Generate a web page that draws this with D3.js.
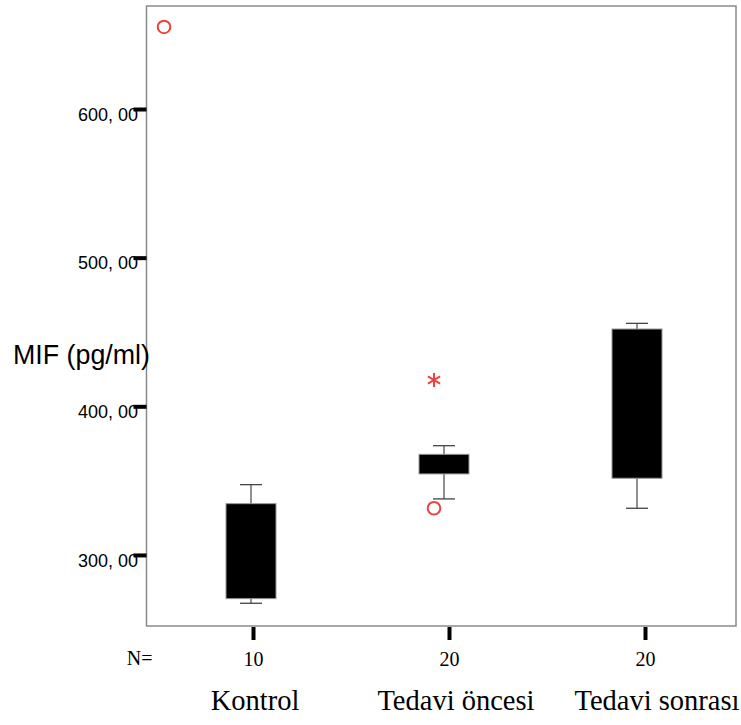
<html>
<head>
  <meta charset="utf-8">
  <title>MIF boxplot</title>
  <script src="https://cdn.jsdelivr.net/npm/d3@7"></script>
  <style>
    body { margin: 0; background: #fff; }
  </style>
</head>
<body>
  <script>
    // Data
    const categories = ["Kontrol", "Tedavi öncesi", "Tedavi sonrası"];
    const nValues = [10, 20, 20];
    const whiskerLow = [267.5, 337.7, 331.4];
    const q1 = [270.6, 354.5, 351.6];
    const median = [300, 362, 400];
    const q3 = [334.5, 367.7, 452.0];
    const whiskerHigh = [347.3, 373.5, 455.8];
    const outlierCategory = ["Kontrol", "Tedavi öncesi"];
    const outlierValue = [655.2, 331.4];
    const extremeCategory = ["Tedavi öncesi"];
    const extremeValue = [417.7];
    const yTicks = [300, 400, 500, 600];

    // Width og height
    const w = 741;
    const h = 725;
    const plotLeft = 146.5, plotRight = 736, plotTop = 6, plotBottom = 626;
    const boxWidth = 50;
    const capWidth = 22;
    const outlierShift = [-87, -10]; // SPSS puts outliers beside the box
    const extremeShift = [-10];

    const y = d3.scaleLinear()
      .domain([252.2, 669.3])
      .range([plotBottom, plotTop]);

    const xBox = d3.scalePoint().domain(categories).range([251, 637]);
    const xTick = d3.scalePoint().domain(categories).range([253, 645]);
    const xLabel = d3.scalePoint().domain(categories).range([255, 657]);

    const svg = d3.select("body")
      .append("svg")
      .attr("width", w)
      .attr("height", h);

    // frame
    svg.append("rect")
      .attr("x", plotLeft)
      .attr("y", plotTop)
      .attr("width", plotRight - plotLeft)
      .attr("height", plotBottom - plotTop)
      .attr("fill", "none")
      .attr("stroke", "#8a8a8a")
      .attr("stroke-width", 1.5);

    // y axis
    const yAxis = svg.append("g")
      .attr("transform", "translate(" + plotLeft + ",0)")
      .call(d3.axisLeft(y)
        .tickValues(yTicks)
        .tickSize(13)
        .tickPadding(-4.5)
        .tickFormat(function (d) { return d + ", 00"; }));
    yAxis.select(".domain").remove();
    yAxis.selectAll(".tick line").attr("stroke", "#000").attr("stroke-width", 4);
    yAxis.selectAll(".tick text")
      .attr("dy", "0.62em")
      .attr("fill", "#000")
      .attr("font-family", "Arial, 'Liberation Sans', sans-serif")
      .attr("font-size", "18px");

    svg.append("text")
      .text("MIF (pg/ml)")
      .attr("x", 13)
      .attr("y", 364)
      .attr("font-family", "Arial, 'Liberation Sans', sans-serif")
      .attr("font-size", "26.8px")
      .attr("fill", "#000");

    // x axis (N)
    const xAxis = svg.append("g")
      .attr("transform", "translate(0," + (plotBottom + 1) + ")")
      .call(d3.axisBottom(xTick).tickSize(13).tickFormat(function (d, i) { return nValues[i]; }).tickPadding(12));
    xAxis.select(".domain").remove();
    xAxis.selectAll(".tick line").attr("stroke", "#000").attr("stroke-width", 4);
    xAxis.selectAll(".tick text")
      .attr("dy", "0.71em")
      .attr("fill", "#000")
      .attr("font-family", "'Times New Roman', 'Liberation Serif', serif")
      .attr("font-size", "20px");

    svg.append("text")
      .text("N=")
      .attr("x", 152.6)
      .attr("y", 665)
      .attr("text-anchor", "end")
      .attr("font-family", "'Times New Roman', 'Liberation Serif', serif")
      .attr("font-size", "20px");

    svg.selectAll("text.cat")
      .data(categories)
      .enter()
      .append("text")
      .attr("class", "cat")
      .text(function (d) { return d; })
      .attr("x", function (d) { return xLabel(d); })
      .attr("y", 710)
      .attr("text-anchor", "middle")
      .attr("font-family", "'Times New Roman', 'Liberation Serif', serif")
      .attr("font-size", "28.5px");

    // whiskers
    const g = svg.selectAll("g.box")
      .data(categories)
      .enter()
      .append("g")
      .attr("class", "box");

    g.append("line")
      .attr("x1", function (d) { return xBox(d); })
      .attr("x2", function (d) { return xBox(d); })
      .attr("y1", function (d, i) { return y(whiskerHigh[i]); })
      .attr("y2", function (d, i) { return y(whiskerLow[i]); })
      .attr("stroke", "#555")
      .attr("stroke-width", 1.3);

    g.append("line")
      .attr("x1", function (d) { return xBox(d) - capWidth / 2; })
      .attr("x2", function (d) { return xBox(d) + capWidth / 2; })
      .attr("y1", function (d, i) { return y(whiskerHigh[i]); })
      .attr("y2", function (d, i) { return y(whiskerHigh[i]); })
      .attr("stroke", "#444")
      .attr("stroke-width", 1.3);

    g.append("line")
      .attr("x1", function (d) { return xBox(d) - capWidth / 2; })
      .attr("x2", function (d) { return xBox(d) + capWidth / 2; })
      .attr("y1", function (d, i) { return y(whiskerLow[i]); })
      .attr("y2", function (d, i) { return y(whiskerLow[i]); })
      .attr("stroke", "#444")
      .attr("stroke-width", 1.3);

    // boxes
    g.append("rect")
      .attr("x", function (d) { return xBox(d) - boxWidth / 2; })
      .attr("y", function (d, i) { return y(q3[i]); })
      .attr("width", boxWidth)
      .attr("height", function (d, i) { return y(q1[i]) - y(q3[i]); })
      .attr("fill", "#000")
      .attr("stroke", "#999")
      .attr("stroke-width", 1);

    // median (black on black, like the original)
    g.append("line")
      .attr("x1", function (d) { return xBox(d) - boxWidth / 2 + 1; })
      .attr("x2", function (d) { return xBox(d) + boxWidth / 2 - 1; })
      .attr("y1", function (d, i) { return y(median[i]); })
      .attr("y2", function (d, i) { return y(median[i]); })
      .attr("stroke", "#000")
      .attr("stroke-width", 2);

    // outliers
    svg.selectAll("circle.out")
      .data(outlierValue)
      .enter()
      .append("circle")
      .attr("class", "out")
      .attr("cx", function (d, i) { return xBox(outlierCategory[i]) + outlierShift[i]; })
      .attr("cy", function (d) { return y(d); })
      .attr("r", 6.3)
      .attr("fill", "none")
      .attr("stroke", "#f04040")
      .attr("stroke-width", 2);

    // extremes
    svg.selectAll("path.ext")
      .data(extremeValue)
      .enter()
      .append("path")
      .attr("class", "ext")
      .attr("d", d3.symbol().type(d3.symbolAsterisk).size(140))
      .attr("transform", function (d, i) {
        return "translate(" + (xBox(extremeCategory[i]) + extremeShift[i]) + "," + y(d) + ")";
      })
      .attr("fill", "none")
      .attr("stroke", "#f04040")
      .attr("stroke-width", 2);
  </script>
</body>
</html>
